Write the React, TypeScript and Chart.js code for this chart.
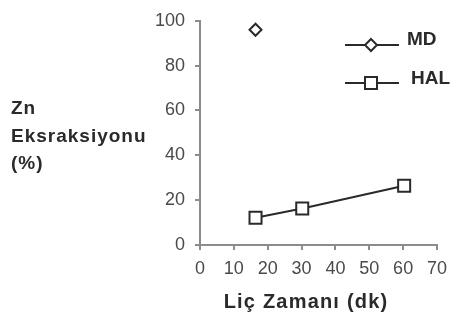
import React, { useEffect, useRef } from "react";
import { Chart, registerables } from "chart.js";

Chart.register(...registerables);

const mdX = [16.4];
const mdY = [96];
const halX = [16.4, 30.2, 60.3];
const halY = [12.2, 16.3, 26.4];
const seriesLabels = ["MD", "HAL"];
const yTitleLines = ["Zn", "Eksraksiyonu", "(%)"];
const xTitle = "Liç Zamanı (dk)";

const FONT = "'Liberation Sans', Arial, sans-serif";
const DARK = "#2a2a2a";
const AXIS = "#8c8c8c";

const textPlugin = {
  id: "customTexts",
  afterDraw(chart: any) {
    const ctx = chart.ctx;
    const area = chart.chartArea;
    ctx.save();
    ctx.fillStyle = DARK;
    ctx.textBaseline = "middle";
    // y title (horizontal, multi-line)
    ctx.font = `bold 19px ${FONT}`;
    ctx.textAlign = "left";
    (ctx as any).letterSpacing = "1px";
    const yTitleY = [109, 137, 164];
    yTitleLines.forEach((l, i) => ctx.fillText(l, 11, yTitleY[i]));
    // x title
    ctx.font = `bold 20px ${FONT}`;
    (ctx as any).letterSpacing = "1.2px";
    ctx.textAlign = "center";
    ctx.fillText(xTitle, 306, 302);
    (ctx as any).letterSpacing = "0px";

    // legend
    const items = [
      { y: 45, ty: 40, tx: 407 },
      { y: 83, ty: 79, tx: 411 },
    ];
    chart.data.datasets.forEach((ds: any, i: number) => {
      const it = items[i];
      ctx.strokeStyle = DARK;
      ctx.lineWidth = 2;
      ctx.beginPath();
      ctx.moveTo(345, it.y);
      ctx.lineTo(399, it.y);
      ctx.stroke();
      ctx.fillStyle = "#fff";
      ctx.beginPath();
      const cx = 371;
      if (ds.pointStyle === "rectRot") {
        const r = 6;
        ctx.moveTo(cx, it.y - r);
        ctx.lineTo(cx + r, it.y);
        ctx.lineTo(cx, it.y + r);
        ctx.lineTo(cx - r, it.y);
        ctx.closePath();
      } else {
        const s = 6;
        ctx.rect(cx - s, it.y - s, 2 * s, 2 * s);
      }
      ctx.fill();
      ctx.stroke();
      ctx.fillStyle = DARK;
      ctx.font = `bold 19px ${FONT}`;
      ctx.textAlign = "left";
      ctx.fillText(ds.label, it.tx, it.ty);
    });
    ctx.restore();
  },
};

export default function App() {
  const ref = useRef<HTMLCanvasElement | null>(null);
  useEffect(() => {
    if (!ref.current) return;
    const chart = new Chart(ref.current, {
      type: "scatter",
      data: {
        datasets: [
          {
            label: seriesLabels[0],
            data: mdX.map((x, i) => ({ x, y: mdY[i] })),
            pointStyle: "rectRot",
            pointRadius: 6,
            borderColor: DARK,
            backgroundColor: "#fff",
            borderWidth: 2,
            showLine: false,
          },
          {
            label: seriesLabels[1],
            data: halX.map((x, i) => ({ x, y: halY[i] })),
            pointStyle: "rect",
            pointRadius: 8.5,
            borderColor: DARK,
            backgroundColor: "#fff",
            pointBackgroundColor: "#fff",
            borderWidth: 2,
            showLine: true,
          } as any,
        ],
      },
      options: {
        animation: false,
        responsive: true,
        maintainAspectRatio: false,
        layout: { padding: { top: 14, right: 15, left: 0, bottom: 0 } },
        plugins: { legend: { display: false }, tooltip: { enabled: false } },
        scales: {
          x: {
            type: "linear",
            min: 0,
            max: 70,
            ticks: { stepSize: 10, color: "#4a4a4a", font: { size: 18, family: FONT, lineHeight: 1.6 }, padding: 5 },
            grid: { display: true, drawOnChartArea: false, drawTicks: true, tickLength: 5, color: AXIS, lineWidth: 2 },
            border: { display: true, color: AXIS, width: 2 },
            afterFit: (s: any) => {
              s.height = 77;
            },
          },
          y: {
            min: 0,
            max: 100,
            ticks: { stepSize: 20, color: "#4a4a4a", font: { size: 18, family: FONT }, padding: 10 },
            grid: { display: true, drawOnChartArea: false, drawTicks: true, tickLength: 5, color: AXIS, lineWidth: 2 },
            border: { display: true, color: AXIS, width: 2 },
            afterFit: (s: any) => {
              s.width = 200;
            },
          },
        },
      },
      plugins: [textPlugin],
    });
    return () => chart.destroy();
  }, []);
  return (
    <div style={{ position: "fixed", left: 0, top: 0, width: 452, height: 322, background: "#fff" }}>
      <canvas ref={ref} />
    </div>
  );
}
